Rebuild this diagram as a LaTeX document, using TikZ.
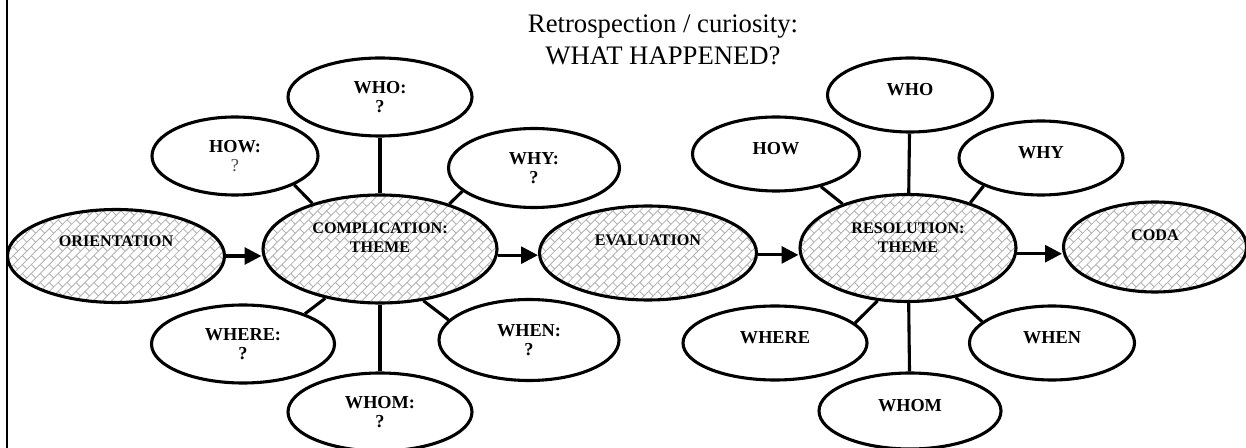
\documentclass[tikz,border=0pt]{standalone}
\usepackage{fontspec}
\setmainfont{Liberation Serif}
\usetikzlibrary{shapes.geometric,arrows.meta,patterns.meta}

\tikzdeclarepattern{
  name=diagbricks,
  type=uncolored,
  bottom left={(-0.5pt,-0.5pt)},
  top right={(9.5pt,9.5pt)},
  tile size={(9pt,9pt)},
  tile transformation={rotate=45},
  code={
    \draw[line width=0.6pt] (0pt,0pt) -- (9pt,0pt) (0pt,4.5pt) -- (9pt,4.5pt)
      (0pt,0pt) -- (0pt,4.5pt) (4.5pt,4.5pt) -- (4.5pt,9pt);
  }
}

\tikzset{
  ellsize/.style 2 args={minimum width=#1*0.25mm,minimum height=#2*0.25mm},
  core/.style={ellipse,draw,line width=2.2pt,pattern=diagbricks,pattern color=black!30,inner sep=0pt},
  side/.style={ellipse,draw,line width=2.2pt,fill=white,inner sep=0pt,align=center,
    font=\fontsize{13}{13.5}\selectfont\bfseries},
  coretxt/.style={font=\fontsize{11.5}{13.5}\selectfont\bfseries,align=center,inner sep=0pt},
  sidetxt/.style={font=\fontsize{13}{13.5}\selectfont\bfseries,inner sep=0pt,yshift=1.25mm},
  link/.style={line width=2.2pt},
  flow/.style={line width=2.2pt,-{Triangle[length=4.2mm,width=4.2mm]}},
}

\begin{document}
\begin{tikzpicture}[x=0.25mm,y=-0.25mm,line cap=butt,line join=round]
  \useasboundingbox (0,0) rectangle (1246,448);
  \draw[line width=0.8pt] (7,0) -- (7,448);
  \node[align=center,inner sep=0pt,font=\fontsize{19}{22.7}\selectfont] (head) at (663,40)
    {Retrospection / curiosity:\\WHAT HAPPENED?};
  % main line
  \node[core,ellsize={217}{93},label={[coretxt,yshift=3.75mm]center:ORIENTATION}] (orient) at (116,256) {};
  \node[core,ellsize={234}{108},label={[coretxt,yshift=2.75mm]center:COMPLICATION:\\THEME}] (comp) at (380,249) {};
  \node[core,ellsize={217}{94},label={[coretxt,yshift=3.25mm]center:EVALUATION}] (eval) at (648,253) {};
  \node[core,ellsize={216}{107},label={[coretxt,yshift=2.5mm]center:RESOLUTION:\\THEME}] (res) at (908,248) {};
  \node[core,ellsize={183}{90},label={[coretxt,yshift=3mm]center:CODA}] (coda) at (1155,247) {};
  \draw[flow] (orient.east) -- (orient.east -| comp.west);
  \draw[flow] (comp.-3) -- (comp.-3 -| eval.west);
  \draw[flow] (eval.-1) -- (eval.-1 -| res.west);
  \draw[flow] (res.-3) -- (res.-3 -| coda.west);
  % complication
  \node[side,ellsize={184}{78}] (cwho) at (380,97) {WHO:\\?};
  \node[side,ellsize={166}{78}] (chow) at (235,156) {HOW:\\{\mdseries\color{black!70}?}};
  \node[side,ellsize={171}{79}] (cwhy) at (534,168) {WHY:\\?};
  \node[side,ellsize={183}{78}] (cwhere) at (243,344) {WHERE:\\?};
  \node[side,ellsize={180}{81}] (cwhen) at (529,340) {WHEN:\\?};
  \node[side,ellsize={184}{78}] (cwhom) at (380,412) {WHOM:\\?};
  \draw[link] (cwho) -- (comp);
  \draw[link] (cwhom) -- (comp);
  \draw[link] (chow.-26) -- (comp.146);
  \draw[link] (cwhy.198) -- (comp.33);
  \draw[link] (cwhere.26) -- (comp.222);
  \draw[link] (cwhen.166) -- (comp.-50);
  % resolution
  \node[side,ellsize={165}{74},label={[sidetxt]center:WHO}] (rwho) at (910,95) {};
  \node[side,ellsize={167}{74},label={[sidetxt]center:HOW}] (rhow) at (776,154) {};
  \node[side,ellsize={164}{74},label={[sidetxt]center:WHY}] (rwhy) at (1041,158) {};
  \node[side,ellsize={184}{74},label={[sidetxt]center:WHERE}] (rwhere) at (775,343) {};
  \node[side,ellsize={165}{74},label={[sidetxt]center:WHEN}] (rwhen) at (1052,343) {};
  \node[side,ellsize={182}{76},label={[sidetxt]center:WHOM}] (rwhom) at (910,411) {};
  \draw[link] (rwho) -- (res);
  \draw[link] (rwhom) -- (res);
  \draw[link] (rhow.-36) -- (res.146);
  \draw[link] (rwhy.206) -- (res.36);
  \draw[link] (rwhere.14) -- (res.240);
  \draw[link] (rwhen.163) -- (res.-46);
\end{tikzpicture}
\end{document}
